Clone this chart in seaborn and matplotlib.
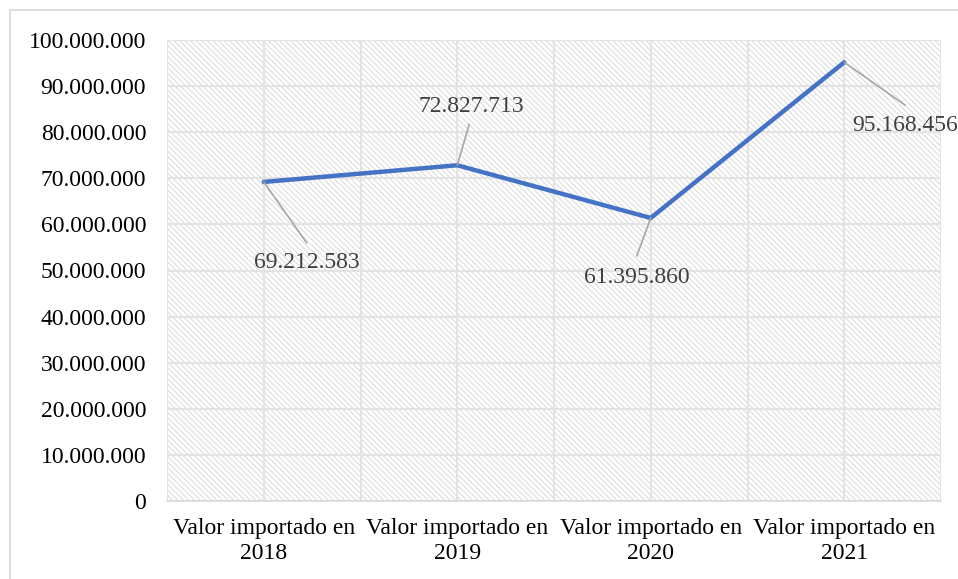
import matplotlib as mpl
mpl.use('Agg')
import matplotlib.pyplot as plt
import matplotlib.patches as mpatches
import seaborn as sns
import pandas as pd

# ── Data ──────────────────────────────────────────────────────────────────
categories = ['Valor importado en\n2018', 'Valor importado en\n2019',
              'Valor importado en\n2020', 'Valor importado en\n2021']
valores = [69212583, 72827713, 61395860, 95168456]
labels = ['69.212.583', '72.827.713', '61.395.860', '95.168.456']
yticks = list(range(0, 100000001, 10000000))

# label offsets in pixels (text anchor relative to point)
offsets = [(43, -81), (14, 59), (-14, -60), (8, -63)]
leader_ends = [(43, -61), (12, 41), (-14, -38), (61, -43)]

sns.set_theme(style='white')
plt.rcParams['font.family'] = ['Liberation Serif', 'DejaVu Serif']
plt.rcParams['hatch.linewidth'] = 0.7
plt.rcParams['hatch.color'] = '#d9d9d9'

FS = 17

fig = plt.figure(figsize=(9.58, 5.79), dpi=100)
W, H = 958, 579
ax = fig.add_axes([167 / W, 1 - 501 / H, (941 - 167) / W, (501 - 40) / H])

# outer chart frame
fig.patches.append(mpatches.Rectangle((10 / W, -0.01), 1.0, 1 - 10 / H + 0.01,
                                      transform=fig.transFigure, fill=False,
                                      edgecolor='#d9d9d9', linewidth=1.2))

# hatched plot background
ax.add_patch(mpatches.Rectangle((0, 0), 1, 1, transform=ax.transAxes,
                                facecolor='white', edgecolor='#d9d9d9',
                                hatch='\\' * 6, linewidth=0, zorder=0))

df = pd.DataFrame({'cat': range(len(categories)), 'valor': valores})

ax.set_xlim(-0.5, 3.5)
ax.set_ylim(0, 100000000)
for x in [i * 0.5 - 0.5 for i in range(9)]:
    ax.axvline(x, color='#e3e3e3', linewidth=1.5, zorder=1)
for y in yticks:
    ax.axhline(y, color='#e3e3e3', linewidth=1.5, zorder=1)

sns.lineplot(data=df, x='cat', y='valor', color='#4472C4', linewidth=3.2,
             ax=ax, zorder=3)

for i, (v, lab) in enumerate(zip(valores, labels)):
    dx, dy = offsets[i]
    ex, ey = leader_ends[i]
    ax.annotate('', xy=(i, v), xytext=(ex, ey), textcoords='offset pixels',
                arrowprops=dict(arrowstyle='-', color='#a6a6a6', lw=1.2,
                                shrinkA=0, shrinkB=0), zorder=4)
    ha = 'left' if i == 3 else 'center'
    ax.annotate(lab, xy=(i, v), xytext=(dx, dy), textcoords='offset pixels',
                ha=ha, va='center', fontsize=FS, color='#404040', zorder=5,
                annotation_clip=False)

ax.set_yticks(yticks)
ax.set_yticklabels([f'{y:,}'.replace(',', '.') for y in yticks], fontsize=FS,
                   color='black')
ax.set_xticks(range(len(categories)))
ax.set_xticklabels(categories, fontsize=FS, color='black', linespacing=1.3)
ax.tick_params(axis='y', length=0, pad=15)
ax.tick_params(axis='x', length=0, pad=12)
ax.set_xlabel('')
ax.set_ylabel('')
for s in ['top', 'right', 'left']:
    ax.spines[s].set_visible(False)
ax.spines['bottom'].set_color('#d9d9d9')
ax.spines['bottom'].set_linewidth(1.2)

fig.savefig('out.png', dpi=100)
